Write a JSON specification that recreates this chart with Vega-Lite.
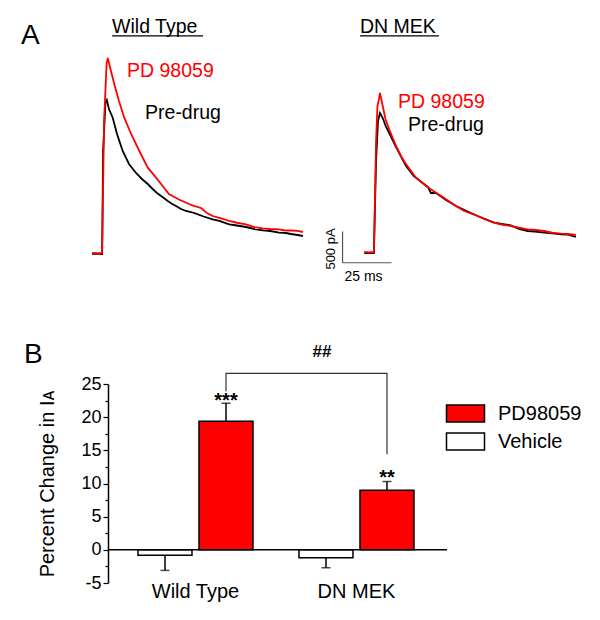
{
  "$schema": "https://vega.github.io/schema/vega-lite/v6.json",
  "padding": {"left": 20, "top": 16, "right": 5, "bottom": 5},
  "background": "white",
  "config": {"view": {"stroke": null}, "font": "Liberation Sans"},
  "bounds": "flush",
  "spacing": 333,
  "vconcat": [
    {
      "bounds": "flush",
      "spacing": 20,
      "hconcat": [
        {
          "width": 203,
          "height": 210,
          "encoding": {
            "x": {"field": "t", "type": "quantitative", "scale": {"domain": [11.2, 114.8], "nice": false, "zero": false}, "axis": null},
            "y": {"field": "i", "type": "quantitative", "scale": {"domain": [-112, 3248], "nice": false, "zero": false}, "axis": null}
          },
          "layer": [
            {
              "data": {"values": [
                {"cond": "Pre-drug", "t": 3.1, "i": 0}, {"cond": "Pre-drug", "t": 5, "i": 8}, {"cond": "Pre-drug", "t": 8.2, "i": 0}, {"cond": "Pre-drug", "t": 8.7, "i": 1648}, {"cond": "Pre-drug", "t": 9.9, "i": 2416}, {"cond": "Pre-drug", "t": 10.6, "i": 2464}, {"cond": "Pre-drug", "t": 11.7, "i": 2320}, {"cond": "Pre-drug", "t": 13.6, "i": 2181}, {"cond": "Pre-drug", "t": 15.8, "i": 1920}, {"cond": "Pre-drug", "t": 18.7, "i": 1648}, {"cond": "Pre-drug", "t": 21.9, "i": 1440}, {"cond": "Pre-drug", "t": 25.5, "i": 1296}, {"cond": "Pre-drug", "t": 28.5, "i": 1200}, {"cond": "Pre-drug", "t": 31.5, "i": 1120}, {"cond": "Pre-drug", "t": 34, "i": 1040}, {"cond": "Pre-drug", "t": 36.2, "i": 976}, {"cond": "Pre-drug", "t": 39, "i": 912}, {"cond": "Pre-drug", "t": 41.7, "i": 848}, {"cond": "Pre-drug", "t": 44, "i": 800}, {"cond": "Pre-drug", "t": 45.9, "i": 768}, {"cond": "Pre-drug", "t": 48.5, "i": 720}, {"cond": "Pre-drug", "t": 51, "i": 688}, {"cond": "Pre-drug", "t": 53.5, "i": 672}, {"cond": "Pre-drug", "t": 56.1, "i": 645}, {"cond": "Pre-drug", "t": 60, "i": 600}, {"cond": "Pre-drug", "t": 64.6, "i": 555}, {"cond": "Pre-drug", "t": 68, "i": 530}, {"cond": "Pre-drug", "t": 73.1, "i": 475}, {"cond": "Pre-drug", "t": 77, "i": 456}, {"cond": "Pre-drug", "t": 81.6, "i": 432}, {"cond": "Pre-drug", "t": 86, "i": 400}, {"cond": "Pre-drug", "t": 90.2, "i": 379}, {"cond": "Pre-drug", "t": 94, "i": 368}, {"cond": "Pre-drug", "t": 98.5, "i": 341}, {"cond": "Pre-drug", "t": 102, "i": 336}, {"cond": "Pre-drug", "t": 104.6, "i": 320}, {"cond": "Pre-drug", "t": 108, "i": 304}, {"cond": "Pre-drug", "t": 110.7, "i": 288},
                {"cond": "PD 98059", "t": 3.1, "i": 16}, {"cond": "PD 98059", "t": 6, "i": 8}, {"cond": "PD 98059", "t": 8.2, "i": 16}, {"cond": "PD 98059", "t": 9.2, "i": 2128}, {"cond": "PD 98059", "t": 10.5, "i": 3056}, {"cond": "PD 98059", "t": 11.1, "i": 3136}, {"cond": "PD 98059", "t": 12.2, "i": 2992}, {"cond": "PD 98059", "t": 14.4, "i": 2720}, {"cond": "PD 98059", "t": 16.8, "i": 2448}, {"cond": "PD 98059", "t": 19.5, "i": 2181}, {"cond": "PD 98059", "t": 23, "i": 1920}, {"cond": "PD 98059", "t": 27.2, "i": 1648}, {"cond": "PD 98059", "t": 31.5, "i": 1381}, {"cond": "PD 98059", "t": 35, "i": 1250}, {"cond": "PD 98059", "t": 38.3, "i": 1120}, {"cond": "PD 98059", "t": 42.3, "i": 960}, {"cond": "PD 98059", "t": 47.4, "i": 872}, {"cond": "PD 98059", "t": 52.6, "i": 800}, {"cond": "PD 98059", "t": 55, "i": 770}, {"cond": "PD 98059", "t": 58.7, "i": 736}, {"cond": "PD 98059", "t": 61.5, "i": 660}, {"cond": "PD 98059", "t": 64.6, "i": 608}, {"cond": "PD 98059", "t": 69, "i": 570}, {"cond": "PD 98059", "t": 73.1, "i": 528}, {"cond": "PD 98059", "t": 77, "i": 500}, {"cond": "PD 98059", "t": 81.6, "i": 475}, {"cond": "PD 98059", "t": 86, "i": 430}, {"cond": "PD 98059", "t": 90.2, "i": 411}, {"cond": "PD 98059", "t": 94, "i": 400}, {"cond": "PD 98059", "t": 98.5, "i": 395}, {"cond": "PD 98059", "t": 101, "i": 380}, {"cond": "PD 98059", "t": 104.6, "i": 376}, {"cond": "PD 98059", "t": 108, "i": 370}, {"cond": "PD 98059", "t": 110.7, "i": 352}
              ]},
              "mark": {"type": "line", "strokeWidth": 1.8, "clip": false},
              "encoding": {
                "color": {"field": "cond", "type": "nominal", "scale": {"domain": ["Pre-drug", "PD 98059"], "range": ["#000000", "#ff0000"]}, "legend": null}
              }
            },
            {
              "data": {"values": [{"label": "A", "t": -33.2, "i": 3360}]},
              "mark": {"type": "text", "fontSize": 28, "align": "left", "baseline": "alphabetic", "color": "black"},
              "encoding": {"text": {"field": "label"}}
            },
            {
              "data": {"values": [{"label": "Wild Type", "t": 13.3, "i": 3541}, {"label": "Pre-drug", "t": 30.1, "i": 2160}]},
              "mark": {"type": "text", "fontSize": 19.5, "align": "left", "baseline": "alphabetic", "color": "black"},
              "encoding": {"text": {"field": "label"}}
            },
            {
              "data": {"values": [{"label": "PD 98059", "t": 20.9, "i": 2832}]},
              "mark": {"type": "text", "fontSize": 19.5, "align": "left", "baseline": "alphabetic", "color": "#ff0000"},
              "encoding": {"text": {"field": "label"}}
            },
            {
              "data": {"values": [{"t": 13.3, "t2": 59.7, "i": 3490}]},
              "mark": {"type": "rule", "color": "black", "strokeWidth": 1.2},
              "encoding": {"x2": {"field": "t2"}}
            }
          ]
        },
        {
          "width": 250,
          "height": 210,
          "encoding": {
            "x": {"field": "t", "type": "quantitative", "scale": {"domain": [0, 127.6], "nice": false, "zero": false}, "axis": null},
            "y": {"field": "i", "type": "quantitative", "scale": {"domain": [-112, 3248], "nice": false, "zero": false}, "axis": null}
          },
          "layer": [
            {
              "data": {"values": [
                {"cond": "Pre-drug", "t": 17, "i": 16}, {"cond": "Pre-drug", "t": 19.5, "i": 16}, {"cond": "Pre-drug", "t": 21.9, "i": 16}, {"cond": "Pre-drug", "t": 23, "i": 1488}, {"cond": "Pre-drug", "t": 24, "i": 2128}, {"cond": "Pre-drug", "t": 25, "i": 2256}, {"cond": "Pre-drug", "t": 26.4, "i": 2176}, {"cond": "Pre-drug", "t": 28.1, "i": 2032}, {"cond": "Pre-drug", "t": 29.7, "i": 1936}, {"cond": "Pre-drug", "t": 33.2, "i": 1712}, {"cond": "Pre-drug", "t": 38.3, "i": 1408}, {"cond": "Pre-drug", "t": 42.3, "i": 1248}, {"cond": "Pre-drug", "t": 46.8, "i": 1136}, {"cond": "Pre-drug", "t": 49.5, "i": 1072}, {"cond": "Pre-drug", "t": 51, "i": 976}, {"cond": "Pre-drug", "t": 53.6, "i": 976}, {"cond": "Pre-drug", "t": 58.7, "i": 864}, {"cond": "Pre-drug", "t": 63.8, "i": 768}, {"cond": "Pre-drug", "t": 71.4, "i": 656}, {"cond": "Pre-drug", "t": 77, "i": 580}, {"cond": "Pre-drug", "t": 83.3, "i": 501}, {"cond": "Pre-drug", "t": 87, "i": 480}, {"cond": "Pre-drug", "t": 91.8, "i": 459}, {"cond": "Pre-drug", "t": 95.9, "i": 400}, {"cond": "Pre-drug", "t": 100.4, "i": 368}, {"cond": "Pre-drug", "t": 104, "i": 360}, {"cond": "Pre-drug", "t": 108.8, "i": 341}, {"cond": "Pre-drug", "t": 113, "i": 330}, {"cond": "Pre-drug", "t": 117.3, "i": 315}, {"cond": "Pre-drug", "t": 121, "i": 310}, {"cond": "Pre-drug", "t": 125, "i": 272},
                {"cond": "PD 98059", "t": 17, "i": 32}, {"cond": "PD 98059", "t": 19.5, "i": 24}, {"cond": "PD 98059", "t": 21.9, "i": 32}, {"cond": "PD 98059", "t": 23, "i": 1808}, {"cond": "PD 98059", "t": 23.7, "i": 2368}, {"cond": "PD 98059", "t": 24.5, "i": 2480}, {"cond": "PD 98059", "t": 25, "i": 2576}, {"cond": "PD 98059", "t": 26.4, "i": 2368}, {"cond": "PD 98059", "t": 27.8, "i": 2160}, {"cond": "PD 98059", "t": 29.7, "i": 1995}, {"cond": "PD 98059", "t": 33.2, "i": 1728}, {"cond": "PD 98059", "t": 35.7, "i": 1568}, {"cond": "PD 98059", "t": 38.3, "i": 1435}, {"cond": "PD 98059", "t": 43.4, "i": 1221}, {"cond": "PD 98059", "t": 48.5, "i": 1088}, {"cond": "PD 98059", "t": 53.6, "i": 981}, {"cond": "PD 98059", "t": 58.7, "i": 875}, {"cond": "PD 98059", "t": 63.8, "i": 768}, {"cond": "PD 98059", "t": 68, "i": 688}, {"cond": "PD 98059", "t": 74.8, "i": 608}, {"cond": "PD 98059", "t": 79, "i": 550}, {"cond": "PD 98059", "t": 83.3, "i": 501}, {"cond": "PD 98059", "t": 87, "i": 470}, {"cond": "PD 98059", "t": 91.8, "i": 448}, {"cond": "PD 98059", "t": 96, "i": 420}, {"cond": "PD 98059", "t": 100.4, "i": 395}, {"cond": "PD 98059", "t": 104.5, "i": 384}, {"cond": "PD 98059", "t": 108.8, "i": 368}, {"cond": "PD 98059", "t": 113, "i": 340}, {"cond": "PD 98059", "t": 117.3, "i": 325}, {"cond": "PD 98059", "t": 121, "i": 320}, {"cond": "PD 98059", "t": 125, "i": 304}
              ]},
              "mark": {"type": "line", "strokeWidth": 1.8, "clip": false},
              "encoding": {
                "color": {"field": "cond", "type": "nominal", "scale": {"domain": ["Pre-drug", "PD 98059"], "range": ["#000000", "#ff0000"]}, "legend": null}
              }
            },
            {
              "data": {"values": [{"label": "DN MEK", "t": 14.8, "i": 3541}, {"label": "Pre-drug", "t": 39.3, "i": 1965}]},
              "mark": {"type": "text", "fontSize": 19.5, "align": "left", "baseline": "alphabetic", "color": "black"},
              "encoding": {"text": {"field": "label"}}
            },
            {
              "data": {"values": [{"label": "PD 98059", "t": 34.2, "i": 2340}]},
              "mark": {"type": "text", "fontSize": 19.5, "align": "left", "baseline": "alphabetic", "color": "#ff0000"},
              "encoding": {"text": {"field": "label"}}
            },
            {
              "data": {"values": [{"t": 14.8, "t2": 55.1, "i": 3490}]},
              "mark": {"type": "rule", "color": "black", "strokeWidth": 1.2},
              "encoding": {"x2": {"field": "t2"}}
            },
            {
              "data": {"values": [{"t": 5.9, "t2": 5.9, "i": -140, "i2": 360}, {"t": 5.9, "t2": 30.9, "i": -140, "i2": -140}]},
              "mark": {"type": "rule", "color": "#555555", "strokeWidth": 1.2, "clip": false},
              "encoding": {"x2": {"field": "t2"}, "y2": {"field": "i2"}}
            },
            {
              "data": {"values": [{"label": "500 pA", "t": 0, "i": 80}]},
              "mark": {"type": "text", "fontSize": 13, "align": "center", "baseline": "middle", "angle": 270, "color": "black"},
              "encoding": {"text": {"field": "label"}}
            },
            {
              "data": {"values": [{"label": "25 ms", "t": 16.6, "i": -432}]},
              "mark": {"type": "text", "fontSize": 14, "align": "center", "baseline": "alphabetic", "color": "black"},
              "encoding": {"text": {"field": "label"}}
            }
          ]
        }
      ]
    },
    {
      "width": 339,
      "height": 199,
      "layer": [
        {
          "data": {"values": [
            {"group": "Wild Type", "treatment": "Vehicle", "value": -0.8, "err": -3.1},
            {"group": "Wild Type", "treatment": "PD98059", "value": 19.4, "err": 22.1},
            {"group": "DN MEK", "treatment": "Vehicle", "value": -1.2, "err": -2.7},
            {"group": "DN MEK", "treatment": "PD98059", "value": 9.0, "err": 10.3}
          ]},
          "encoding": {
            "x": {"field": "group", "type": "nominal", "sort": ["Wild Type", "DN MEK"], "scale": {"paddingInner": 0.2857, "paddingOuter": 0.1957, "align": 0.476},
                  "axis": {"title": null, "domain": false, "ticks": false, "labelAngle": 0, "labelFontSize": 20, "labelPadding": -2, "labelColor": "black"}},
            "xOffset": {"field": "treatment", "type": "nominal", "sort": ["Vehicle", "PD98059"], "scale": {"paddingInner": 0.115, "paddingOuter": 0}}
          },
          "layer": [
            {
              "mark": {"type": "bar", "stroke": "black", "strokeWidth": 1.5},
              "encoding": {
                "y": {"field": "value", "type": "quantitative", "scale": {"domain": [-5, 25], "nice": false},
                      "axis": {"title": "Percent Change in Iᴀ", "values": [-5, -2.5, 0, 2.5, 5, 7.5, 10, 12.5, 15, 17.5, 20, 22.5, 25], "tickCount": 30,
                               "labelExpr": "datum.value % 5 == 0 ? '' + datum.value : ''", "labelOverlap": false,
                               "tickSize": {"condition": {"test": "datum.value % 5 == 0", "value": 5}, "value": 3},
                               "grid": false, "domainColor": "black", "domainWidth": 1.5, "tickColor": "black", "tickWidth": 1.2,
                               "labelFontSize": 18, "labelColor": "black", "labelPadding": 2,
                               "titleFontSize": 20, "titleFontWeight": "normal", "titleColor": "black", "titlePadding": 23}},
                "fill": {"field": "treatment", "type": "nominal", "scale": {"domain": ["PD98059", "Vehicle"], "range": ["#ff0000", "#ffffff"]},
                         "legend": {"orient": "none", "legendX": 344, "legendY": 349, "title": null, "padding": 0,
                                    "symbolType": "M-1.5,-0.67H1.5V0.67H-1.5Z", "symbolSize": 642, "symbolStrokeColor": "black", "symbolStrokeWidth": 1.5,
                                    "labelFontSize": 20, "labelColor": "black", "labelOffset": 19, "rowPadding": 3}}
              }
            },
            {
              "mark": {"type": "rule", "color": "black", "strokeWidth": 1.5},
              "encoding": {"y": {"field": "value", "type": "quantitative"}, "y2": {"field": "err"}}
            },
            {
              "mark": {"type": "tick", "color": "black", "size": 9, "thickness": 1.5, "orient": "horizontal"},
              "encoding": {"y": {"field": "err", "type": "quantitative"}}
            }
          ]
        },
        {
          "data": {"values": [{"zero": 0}]},
          "mark": {"type": "rule", "color": "black", "strokeWidth": 1.5},
          "encoding": {"y": {"field": "zero", "type": "quantitative"}}
        },
        {
          "data": {"values": [
            {"group": "Wild Type", "treatment": "PD98059", "v": 23.9, "k": 1},
            {"group": "Wild Type", "treatment": "PD98059", "v": 26.6, "k": 2},
            {"group": "DN MEK", "treatment": "PD98059", "v": 26.6, "k": 3},
            {"group": "DN MEK", "treatment": "PD98059", "v": 14.4, "k": 4}
          ]},
          "mark": {"type": "line", "color": "#333333", "strokeWidth": 1.2, "clip": false},
          "encoding": {
            "x": {"field": "group", "type": "nominal", "sort": ["Wild Type", "DN MEK"]},
            "xOffset": {"field": "treatment", "type": "nominal", "sort": ["Vehicle", "PD98059"]},
            "y": {"field": "v", "type": "quantitative"},
            "order": {"field": "k"}
          }
        },
        {
          "data": {"values": [
            {"group": "Wild Type", "treatment": "PD98059", "v": 21.5, "label": "***"},
            {"group": "DN MEK", "treatment": "PD98059", "v": 9.9, "label": "**"}
          ]},
          "mark": {"type": "text", "fontSize": 20, "fontWeight": "bold", "align": "center", "baseline": "alphabetic", "color": "black"},
          "encoding": {
            "x": {"field": "group", "type": "nominal", "sort": ["Wild Type", "DN MEK"]},
            "xOffset": {"field": "treatment", "type": "nominal", "sort": ["Vehicle", "PD98059"]},
            "y": {"field": "v", "type": "quantitative"},
            "text": {"field": "label"}
          }
        },
        {
          "data": {"values": [{"group": "DN MEK", "treatment": "Vehicle", "v": 29.1, "label": "##"}]},
          "mark": {"type": "text", "fontSize": 17, "fontWeight": "bold", "align": "center", "baseline": "alphabetic", "color": "black", "dx": -4},
          "encoding": {
            "x": {"field": "group", "type": "nominal", "sort": ["Wild Type", "DN MEK"]},
            "xOffset": {"field": "treatment", "type": "nominal", "sort": ["Vehicle", "PD98059"]},
            "y": {"field": "v", "type": "quantitative"},
            "text": {"field": "label"}
          }
        },
        {
          "data": {"values": [{"label": "B", "v": 28.2}]},
          "mark": {"type": "text", "fontSize": 28, "align": "left", "baseline": "alphabetic", "color": "black", "dx": -253.5},
          "encoding": {
            "y": {"field": "v", "type": "quantitative"},
            "text": {"field": "label"}
          }
        }
      ]
    }
  ]
}
